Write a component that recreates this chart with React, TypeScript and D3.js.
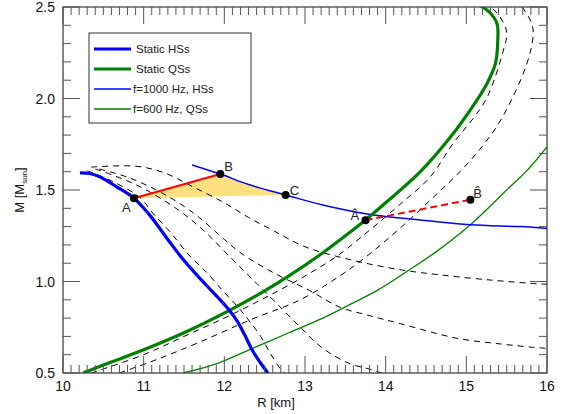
import { useEffect, useRef } from 'react';
import * as d3 from 'd3';

// static hybrid stars (thick blue)
const hsR = [10.21, 10.33, 10.46, 10.67, 10.88, 11.08, 11.29, 11.49, 11.66, 11.84, 12.02, 12.15, 12.25, 12.34, 12.44, 12.54];
const hsM = [1.593, 1.59, 1.571, 1.516, 1.455, 1.36, 1.235, 1.12, 1.035, 0.95, 0.865, 0.79, 0.71, 0.63, 0.56, 0.5];

// static quark stars (thick green)
const qsR = [10.25, 10.6, 11.0, 11.5, 12.07, 12.5, 12.81, 13.2, 13.56, 13.75, 14.0, 14.43, 14.84, 15.1, 15.26, 15.36, 15.39, 15.38, 15.29, 15.13];
const qsM = [0.5, 0.56, 0.627, 0.72, 0.844, 0.949, 1.033, 1.15, 1.27, 1.336, 1.43, 1.6, 1.81, 1.97, 2.085, 2.19, 2.32, 2.41, 2.47, 2.52];

// f = 1000 Hz, HSs (thin blue)
const hs1000R = [11.6, 11.95, 12.3, 12.76, 13.22, 13.85, 14.18, 14.43, 15.05, 15.67, 16.0];
const hs1000M = [1.637, 1.587, 1.53, 1.473, 1.418, 1.363, 1.347, 1.336, 1.31, 1.3, 1.29];

// f = 600 Hz, QSs (thin green)
const qs600R = [11.49, 11.9, 12.3, 12.8, 13.22, 13.56, 13.89, 14.28, 14.65, 15.05, 15.5, 15.76, 16.0];
const qs600M = [0.5, 0.55, 0.625, 0.72, 0.8, 0.875, 0.95, 1.06, 1.17, 1.31, 1.5, 1.61, 1.735];

// dashed sequences (HS family)
const dashA_R = [10.35, 10.9, 11.25, 11.6, 12.0, 12.3, 12.6, 13.0, 13.6, 14.2, 14.7, 15.3, 15.8, 16.0];
const dashA_M = [1.625, 1.63, 1.595, 1.52, 1.43, 1.35, 1.28, 1.19, 1.115, 1.063, 1.035, 1.008, 0.99, 0.985];
const dashB_R = [10.45, 10.8, 11.2, 11.6, 12.0, 12.19, 12.6, 13.06, 13.43, 13.77, 14.18, 14.88, 15.4, 15.83, 16.0];
const dashB_M = [1.615, 1.57, 1.49, 1.38, 1.23, 1.16, 1.05, 0.95, 0.86, 0.817, 0.77, 0.69, 0.66, 0.64, 0.635];
const dashC_R = [10.4, 10.9, 11.4, 11.74, 12.07, 12.4, 12.73, 12.94, 13.22, 13.56, 13.77, 13.95];
const dashC_M = [1.615, 1.53, 1.4, 1.28, 1.134, 0.99, 0.844, 0.75, 0.635, 0.55, 0.525, 0.5];
const dashD_R = [10.3, 10.6, 10.95, 11.12, 11.33, 11.55, 11.78, 11.98, 12.15, 12.3, 12.45, 12.58, 12.7, 12.75];
const dashD_M = [1.605, 1.55, 1.46, 1.37, 1.27, 1.15, 1.05, 0.95, 0.87, 0.79, 0.7, 0.6, 0.52, 0.5];

// dashed sequences (QS family)
const dashQ1_R = [10.35, 11.0, 11.5, 12.0, 12.5, 13.0, 13.4, 13.8, 14.2, 14.55, 14.84, 15.1, 15.26, 15.45, 15.5, 15.42, 15.26];
const dashQ1_M = [0.5, 0.6, 0.7, 0.8, 0.91, 1.03, 1.14, 1.28, 1.43, 1.57, 1.757, 1.9, 2.008, 2.25, 2.36, 2.445, 2.52];
const dashQ2_R = [10.7, 11.2, 11.7, 12.32, 12.94, 13.43, 13.8, 14.2, 14.59, 14.92, 15.2, 15.45, 15.75, 15.83, 15.79, 15.66];
const dashQ2_M = [0.5, 0.58, 0.67, 0.79, 0.9, 1.03, 1.15, 1.3, 1.46, 1.6, 1.74, 1.9, 2.19, 2.36, 2.43, 2.52];

// marked points
const ptNames = ['A', 'B', 'C', 'Â', 'B\u0302'];
const ptR = [10.88, 11.95, 12.76, 13.75, 15.05];
const ptM = [1.455, 1.587, 1.473, 1.335, 1.447];

const xTicks = [10, 11, 12, 13, 14, 15, 16];
const yTicks = [0.5, 1.0, 1.5, 2.0, 2.5];

const legendLabels = ['Static HSs', 'Static QSs', 'f=1000 Hz, HSs', 'f=600 Hz, QSs'];
const legendColors = ['#0000ff', '#008000', '#0000ff', '#008000'];

const zip = (r: number[], m: number[]) => r.map((v, i) => [v, m[i]] as [number, number]);

export default function App() {
  const svgRef = useRef<SVGSVGElement>(null);

  useEffect(() => {
    const svg = d3.select(svgRef.current);
    svg.selectAll('*').remove();

    const width = 563;
    const height = 414;
    const left = 63, right = 547, top = 7, bottom = 373;
    const font = 'Liberation Sans, Arial, Helvetica, sans-serif';

    svg.attr('width', width).attr('height', height);

    const x = d3.scaleLinear().domain([10, 16]).range([left, right]);
    const y = d3.scaleLinear().domain([0.5, 2.5]).range([bottom, top]);

    svg.append('defs').append('clipPath').attr('id', 'plot-clip')
      .append('rect')
      .attr('x', left).attr('y', top)
      .attr('width', right - left).attr('height', bottom - top);

    const plot = svg.append('g').attr('clip-path', 'url(#plot-clip)');

    const line = d3.line<[number, number]>()
      .x(d => x(d[0]))
      .y(d => y(d[1]))
      .curve(d3.curveCatmullRom.alpha(0.5));

    // yellow triangle
    const tri: [number, number][] = [[ptR[0], ptM[0]], [ptR[1], ptM[1]], [12.3, 1.53], [ptR[2], ptM[2]]];
    plot.append('polygon')
      .attr('points', tri.map(d => `${x(d[0])},${y(d[1])}`).join(' '))
      .attr('fill', '#ffe07f');

    // dashed sequences
    const dashed = [
      zip(dashA_R, dashA_M), zip(dashB_R, dashB_M), zip(dashC_R, dashC_M), zip(dashD_R, dashD_M),
      zip(dashQ1_R, dashQ1_M), zip(dashQ2_R, dashQ2_M)
    ];
    dashed.forEach(d => {
      plot.append('path')
        .attr('d', line(d))
        .attr('fill', 'none')
        .attr('stroke', '#000')
        .attr('stroke-width', 1)
        .attr('stroke-dasharray', '6,5');
    });

    // thin rotating sequences
    plot.append('path').attr('d', line(zip(qs600R, qs600M)))
      .attr('fill', 'none').attr('stroke', '#008000').attr('stroke-width', 1.3);
    plot.append('path').attr('d', line(zip(hs1000R, hs1000M)))
      .attr('fill', 'none').attr('stroke', '#0000ff').attr('stroke-width', 1.5);

    // static sequences
    plot.append('path').attr('d', line(zip(qsR, qsM)))
      .attr('fill', 'none').attr('stroke', '#008000').attr('stroke-width', 3.2);
    plot.append('path').attr('d', line(zip(hsR, hsM)))
      .attr('fill', 'none').attr('stroke', '#0000ff').attr('stroke-width', 3.2);

    // red transitions
    plot.append('line')
      .attr('x1', x(ptR[0])).attr('y1', y(ptM[0]))
      .attr('x2', x(ptR[1])).attr('y2', y(ptM[1]))
      .attr('stroke', '#ff0000').attr('stroke-width', 2);
    plot.append('line')
      .attr('x1', x(ptR[3])).attr('y1', y(ptM[3]))
      .attr('x2', x(ptR[4])).attr('y2', y(ptM[4]))
      .attr('stroke', '#ff0000').attr('stroke-width', 2)
      .attr('stroke-dasharray', '7,4');

    // points + labels
    const labelOffsets = [[-12, 14], [4, -3], [4, 0], [-15, 0], [3, -2]];
    ptR.forEach((r, i) => {
      svg.append('circle')
        .attr('cx', x(r)).attr('cy', y(ptM[i]))
        .attr('r', 4).attr('fill', '#000');
      svg.append('text')
        .attr('x', x(r) + labelOffsets[i][0])
        .attr('y', y(ptM[i]) + labelOffsets[i][1])
        .style('font-family', font)
        .style('font-size', '13px')
        .attr('fill', '#222')
        .text(ptNames[i]);
    });

    // frame
    svg.append('rect')
      .attr('x', left).attr('y', top)
      .attr('width', right - left).attr('height', bottom - top)
      .attr('fill', 'none').attr('stroke', '#333').attr('stroke-width', 1.2);

    // ticks
    const ticks = svg.append('g').attr('stroke', '#555').attr('stroke-width', 1);
    d3.range(100, 161).forEach(k => {
      const v = k / 10;
      const len = k % 10 === 0 ? 17 : 8;
      ticks.append('line').attr('x1', x(v)).attr('x2', x(v)).attr('y1', bottom).attr('y2', bottom - len);
      ticks.append('line').attr('x1', x(v)).attr('x2', x(v)).attr('y1', top).attr('y2', top + len);
    });
    d3.range(5, 26).forEach(k => {
      const v = k / 10;
      const len = k % 5 === 0 ? 17 : 8;
      ticks.append('line').attr('y1', y(v)).attr('y2', y(v)).attr('x1', left).attr('x2', left + len);
      ticks.append('line').attr('y1', y(v)).attr('y2', y(v)).attr('x1', right).attr('x2', right - len);
    });

    // tick labels
    xTicks.forEach(v => {
      svg.append('text')
        .attr('x', x(v)).attr('y', bottom + 18)
        .attr('text-anchor', 'middle')
        .style('font-family', font).style('font-size', '14px')
        .attr('fill', '#111')
        .text(v);
    });
    yTicks.forEach(v => {
      svg.append('text')
        .attr('x', left - 8).attr('y', y(v) + 5)
        .attr('text-anchor', 'end')
        .style('font-family', font).style('font-size', '14px')
        .attr('fill', '#111')
        .text(v.toFixed(1));
    });

    // axis titles
    svg.append('text')
      .attr('x', 276).attr('y', 407)
      .attr('text-anchor', 'middle')
      .style('font-family', font).style('font-size', '13px')
      .attr('fill', '#111')
      .text('R [km]');

    const yl = svg.append('text')
      .attr('transform', `translate(24,${(top + bottom) / 2}) rotate(-90)`)
      .attr('text-anchor', 'middle')
      .style('font-family', font).style('font-size', '13px')
      .attr('fill', '#111');
    yl.append('tspan').text('M [M');
    yl.append('tspan').attr('dy', 3).style('font-size', '8px').text('sun');
    yl.append('tspan').attr('dy', -3).text(']');

    // legend
    const lg = svg.append('g');
    lg.append('rect')
      .attr('x', 89).attr('y', 33).attr('width', 162).attr('height', 90)
      .attr('fill', '#fff').attr('stroke', '#333').attr('stroke-width', 1);
    legendLabels.forEach((lab, i) => {
      const ly = 49 + i * 20;
      lg.append('line')
        .attr('x1', 94).attr('x2', 131).attr('y1', ly).attr('y2', ly)
        .attr('stroke', legendColors[i]).attr('stroke-width', i < 2 ? 3.2 : 1.5);
      lg.append('text')
        .attr('x', i < 2 ? 136 : 133).attr('y', ly + 4)
        .style('font-family', font).style('font-size', '11.5px')
        .attr('fill', '#222')
        .text(lab);
    });
  }, []);

  return (
    <div style={{ position: 'absolute', left: 0, top: 0 }}>
      <svg ref={svgRef}></svg>
    </div>
  );
}
